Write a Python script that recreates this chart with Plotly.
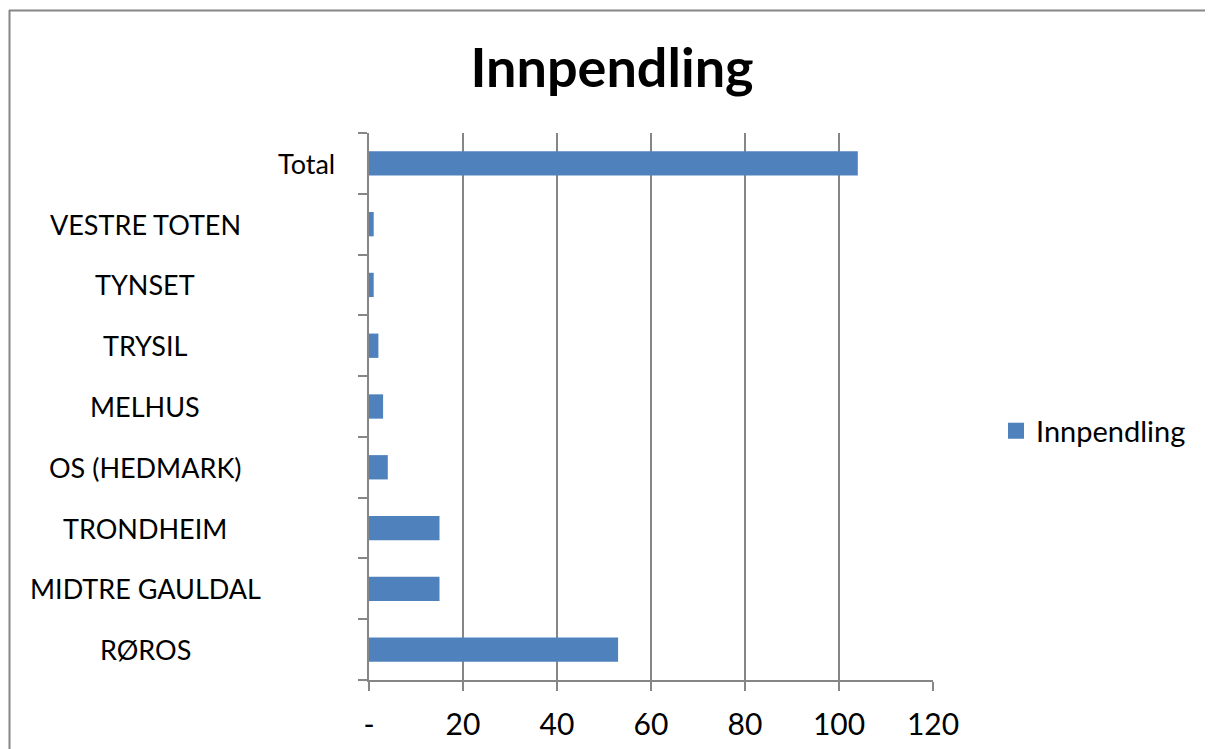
import plotly.graph_objects as go

# data, bottom to top as in the chart
kommuner = ["RØROS", "MIDTRE GAULDAL", "TRONDHEIM", "OS (HEDMARK)", "MELHUS",
            "TRYSIL", "TYNSET", "VESTRE TOTEN", "Total"]
innpendling = [53, 15, 15, 4, 3, 2, 1, 1, 104]
x_ticks = [0, 20, 40, 60, 80, 100, 120]
x_ticktext = ["-", "20", "40", "60", "80", "100", "120"]

OFF = 8  # the page body has an 8px margin
W, H = 1213 - OFF, 749 - OFF
L, R, T, B = 369 - OFF, 280, 133 - OFF, 69
GREY = "#868686"
BLUE = "#4F81BD"
FONT = "Lato"


def px_x(px):  # page pixel -> paper x
    return (px - OFF - L) / (W - L - R)


def px_y(py):  # page pixel -> paper y
    return (H - B - (py - OFF)) / (H - T - B)


fig = go.Figure()
fig.add_trace(go.Bar(
    y=kommuner, x=innpendling, orientation="h",
    marker=dict(color=BLUE, line=dict(width=0)),
    name="Innpendling", showlegend=False,
))
# legend entry with a bigger square, like Excel
fig.add_trace(go.Scatter(
    x=[None], y=[None], mode="markers", name="Innpendling",
    marker=dict(symbol="square", size=17, color=BLUE),
))

# category labels (Excel centres them in a box left of the axis)
annotations = []
for k in kommuner:
    cx = 306 if k == "Total" else 145
    annotations.append(dict(
        x=px_x(cx), xref="paper", y=k, yref="y", text=k, showarrow=False,
        xanchor="center", yanchor="middle",
        font=dict(family=FONT, size=27, color="black"),
    ))

fig.update_layout(
    width=W, height=H,
    margin=dict(l=L, r=R, t=T, b=B, pad=0),
    paper_bgcolor="white", plot_bgcolor="white",
    title=dict(text="<b>Innpendling</b>", x=(612 - OFF) / W, xanchor="center",
               y=1 - (68 - OFF) / H, yanchor="middle",
               font=dict(family=FONT, size=54, color="black")),
    bargap=0.6,
    showlegend=True,
    legend=dict(x=px_x(996), y=px_y(431), xanchor="left", yanchor="middle",
                font=dict(family=FONT, size=29, color="black"),
                itemwidth=30, bgcolor="rgba(0,0,0,0)"),
    annotations=annotations,
    shapes=[
        dict(type="line", xref="paper", yref="paper",
             x0=px_x(9), x1=px_x(1220), y0=px_y(10.5), y1=px_y(10.5),
             line=dict(color=GREY, width=2)),
        dict(type="line", xref="paper", yref="paper",
             x0=px_x(9.5), x1=px_x(9.5), y0=px_y(10), y1=px_y(760),
             line=dict(color=GREY, width=2)),
    ],
)

fig.update_xaxes(
    range=[0, 120], tickvals=x_ticks, ticktext=x_ticktext,
    showgrid=True, gridcolor=GREY, gridwidth=2, automargin=False,
    zeroline=False, showline=True, linecolor=GREY, linewidth=2,
    ticks="outside", ticklen=9, tickwidth=2, tickcolor=GREY,
    ticklabelstandoff=8,
    tickfont=dict(family=FONT, size=30, color="black"),
)
fig.update_yaxes(
    type="category", categoryorder="array", categoryarray=kommuner,
    showgrid=False, showline=True, linecolor=GREY, linewidth=2,
    automargin=False,
    ticks="outside", tickson="boundaries", ticklen=9, tickwidth=2,
    tickcolor=GREY, showticklabels=False,
)

fig.write_html("out.html")
